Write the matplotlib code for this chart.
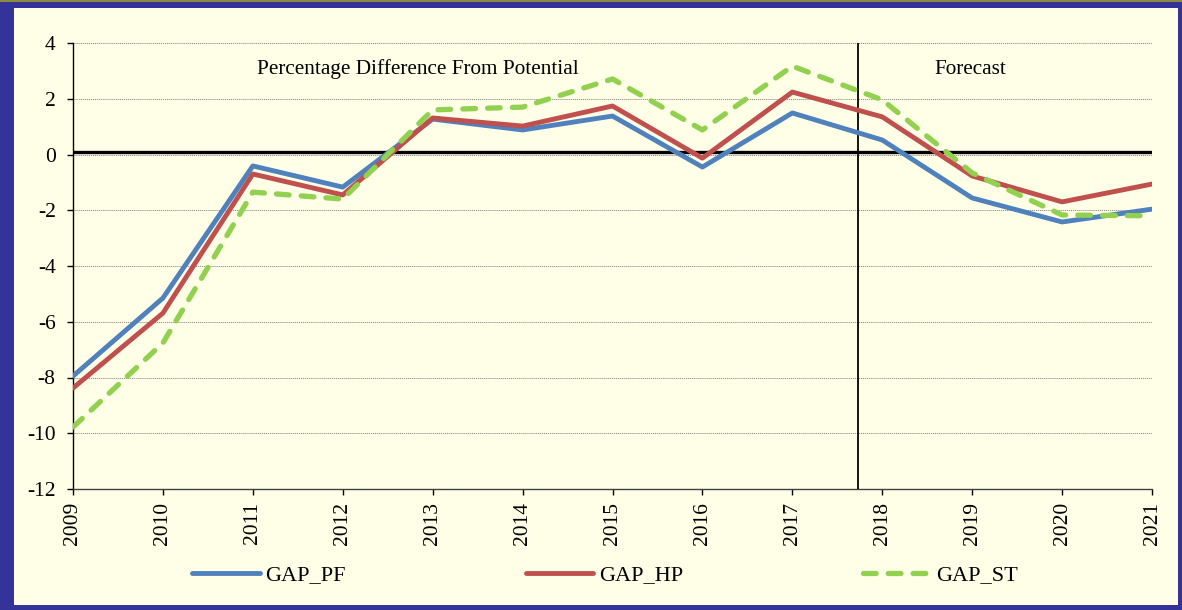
import numpy as np
import matplotlib.pyplot as plt
from matplotlib.patches import Rectangle

years = list(range(2009, 2022))
gap_pf = [-7.95, -5.15, -0.41, -1.17, 1.27, 0.88, 1.38, -0.45, 1.49, 0.52, -1.56, -2.42, -1.96]
gap_hp = [-8.38, -5.69, -0.70, -1.45, 1.31, 1.02, 1.74, -0.13, 2.24, 1.35, -0.77, -1.70, -1.06]
gap_st = [-9.78, -6.76, -1.35, -1.60, 1.60, 1.70, 2.71, 0.88, 3.17, 1.96, -0.66, -2.17, -2.20]
forecast_start = 2017.73

plt.rcParams["font.family"] = ["Liberation Serif", "DejaVu Serif"]
plt.rcParams["axes.unicode_minus"] = False

fig = plt.figure(figsize=(11.82, 6.10), dpi=100)
fig.patch.set_facecolor("#333399")
# light inner panel and the thin olive line along the top edge
fig.add_artist(Rectangle((14 / 1182, 5 / 610), 1164 / 1182, 597 / 610,
                         transform=fig.transFigure, facecolor="#FFFFE8",
                         edgecolor="none", zorder=-10))
fig.add_artist(Rectangle((0, 608 / 610), 1, 2 / 610, transform=fig.transFigure,
                         facecolor="#8C8C3C", edgecolor="none", zorder=-10))

ax = fig.add_axes([73 / 1182, 1 - 489 / 610, 1079 / 1182, 446 / 610])
ax.set_facecolor("none")

ax.plot(years, gap_pf, color="#4F81BD", lw=3.5, label="GAP_PF", solid_capstyle="round", zorder=4)
ax.plot(years, gap_hp, color="#C0504D", lw=3.5, label="GAP_HP", solid_capstyle="round", zorder=5)
ax.plot(years, gap_st, color="#92D050", lw=3.8, ls=(0, (2.4, 2.3)), label="GAP_ST",
        dash_capstyle="round", zorder=6)

ax.axhline(0.08, color="black", lw=2.4, zorder=3)
ax.axvline(forecast_start, color="black", lw=1.3, zorder=3)

ax.set_xlim(2009, 2021)
ax.set_ylim(-12, 4)
ax.set_xticks(years)
ax.set_xticklabels([str(y) for y in years], rotation=90)
ax.set_yticks(np.arange(-12, 5, 2))
ax.yaxis.grid(True, color="#808080", ls=(0, (1, 1)), lw=0.7)
ax.set_axisbelow(True)

for s in ["top", "right"]:
    ax.spines[s].set_visible(False)
ax.spines["left"].set_linewidth(1.0)
ax.spines["bottom"].set_linewidth(1.0)
ax.spines["bottom"].set_color("#404040")
ax.tick_params(axis="both", labelsize=15.5, direction="out", length=4.5, width=1.0)
ax.tick_params(axis="x", pad=5)
ax.tick_params(axis="y", pad=8)

ax.text(2012.84, 3.05, "Percentage Difference From Potential", fontsize=15.3,
        ha="center", va="center")
ax.text(2018.98, 3.05, "Forecast", fontsize=15.3, ha="center", va="center")

ax.legend(loc="center", bbox_to_anchor=(0.493, -0.193), ncol=3, frameon=False,
          fontsize=16, handlelength=3.05, handletextpad=0.25, columnspacing=8.1)

fig.savefig("out.png", dpi=100, facecolor=fig.get_facecolor())
